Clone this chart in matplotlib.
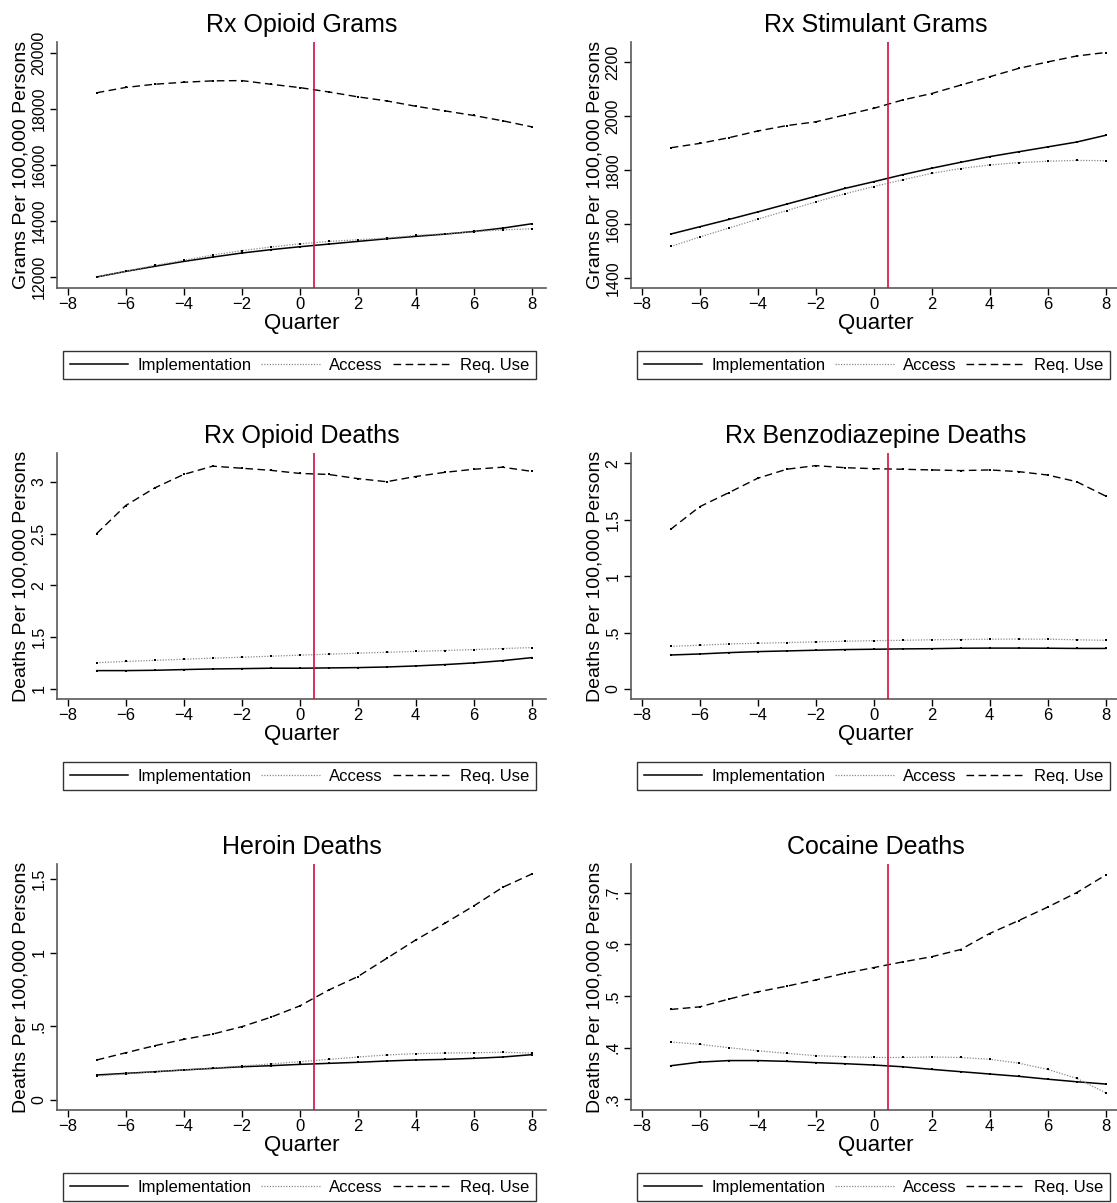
import matplotlib
matplotlib.use("Agg")
import matplotlib.pyplot as plt
from matplotlib.lines import Line2D

plt.rcParams['font.family'] = ['Liberation Sans', 'DejaVu Sans']

quarters = list(range(-7, 9))

titles = ["Rx Opioid Grams", "Rx Stimulant Grams", "Rx Opioid Deaths",
          "Rx Benzodiazepine Deaths", "Heroin Deaths", "Cocaine Deaths"]
ylabels = ["Grams Per 100,000 Persons", "Grams Per 100,000 Persons",
           "Deaths Per 100,000 Persons", "Deaths Per 100,000 Persons",
           "Deaths Per 100,000 Persons", "Deaths Per 100,000 Persons"]
series_names = ["Implementation", "Access", "Req. Use"]

# Rx Opioid Grams
opioid_grams_impl = [12000, 12200, 12380, 12555, 12710, 12855, 12975, 13080,
                     13175, 13270, 13365, 13450, 13530, 13625, 13745, 13900]
opioid_grams_access = [12000, 12205, 12415, 12595, 12785, 12940, 13070, 13185,
                       13270, 13330, 13390, 13485, 13545, 13615, 13685, 13720]
opioid_grams_req = [18580, 18770, 18885, 18955, 19005, 19015, 18885, 18765,
                    18610, 18435, 18290, 18100, 17935, 17770, 17580, 17365]

# Rx Stimulant Grams
stim_grams_impl = [1563, 1590, 1617, 1645, 1674, 1703, 1732, 1757,
                   1783, 1807, 1829, 1850, 1868, 1886, 1904, 1929]
stim_grams_access = [1517, 1552, 1585, 1618, 1650, 1682, 1712, 1739,
                     1764, 1788, 1806, 1819, 1828, 1833, 1836, 1835]
stim_grams_req = [1883, 1899, 1920, 1945, 1965, 1979, 2004, 2029,
                  2060, 2084, 2115, 2146, 2177, 2201, 2223, 2236]

# Rx Opioid Deaths
opioid_deaths_impl = [1.177, 1.177, 1.180, 1.187, 1.193, 1.196, 1.200, 1.200,
                      1.203, 1.206, 1.212, 1.222, 1.235, 1.251, 1.273, 1.302]
opioid_deaths_access = [1.254, 1.265, 1.276, 1.287, 1.297, 1.306, 1.316, 1.326,
                        1.336, 1.345, 1.354, 1.362, 1.371, 1.380, 1.390, 1.399]
opioid_deaths_req = [2.50, 2.77, 2.94, 3.07, 3.15, 3.13, 3.11, 3.08,
                     3.07, 3.03, 3.00, 3.05, 3.09, 3.12, 3.14, 3.10]

# Rx Benzodiazepine Deaths
benzo_deaths_impl = [0.301, 0.310, 0.322, 0.331, 0.337, 0.343, 0.349, 0.352,
                     0.355, 0.357, 0.361, 0.362, 0.362, 0.361, 0.359, 0.359]
benzo_deaths_access = [0.378, 0.387, 0.399, 0.405, 0.411, 0.417, 0.423, 0.428,
                       0.431, 0.436, 0.438, 0.441, 0.442, 0.441, 0.436, 0.431]
benzo_deaths_req = [1.415, 1.615, 1.739, 1.867, 1.947, 1.979, 1.961, 1.952,
                    1.947, 1.941, 1.935, 1.941, 1.926, 1.896, 1.837, 1.710]

# Heroin Deaths
heroin_deaths_impl = [0.170, 0.181, 0.192, 0.204, 0.215, 0.226, 0.233, 0.242,
                      0.249, 0.256, 0.265, 0.272, 0.276, 0.283, 0.292, 0.308]
heroin_deaths_access = [0.163, 0.177, 0.192, 0.204, 0.217, 0.231, 0.245, 0.260,
                        0.276, 0.292, 0.306, 0.315, 0.319, 0.321, 0.324, 0.319]
heroin_deaths_req = [0.272, 0.321, 0.369, 0.412, 0.448, 0.498, 0.562, 0.639,
                     0.747, 0.838, 0.962, 1.087, 1.200, 1.318, 1.445, 1.535]

# Cocaine Deaths
cocaine_deaths_impl = [0.365, 0.372, 0.375, 0.375, 0.3735, 0.371, 0.369, 0.3664,
                       0.363, 0.358, 0.3535, 0.349, 0.3445, 0.339, 0.334, 0.3296]
cocaine_deaths_access = [0.411, 0.4065, 0.400, 0.394, 0.389, 0.3845, 0.3825, 0.381,
                         0.381, 0.382, 0.381, 0.3775, 0.370, 0.358, 0.3407, 0.3128]
cocaine_deaths_req = [0.474, 0.479, 0.494, 0.508, 0.519, 0.531, 0.544, 0.555,
                      0.566, 0.576, 0.590, 0.621, 0.646, 0.672, 0.700, 0.734]

panel_series = [
    (opioid_grams_impl, opioid_grams_access, opioid_grams_req),
    (stim_grams_impl, stim_grams_access, stim_grams_req),
    (opioid_deaths_impl, opioid_deaths_access, opioid_deaths_req),
    (benzo_deaths_impl, benzo_deaths_access, benzo_deaths_req),
    (heroin_deaths_impl, heroin_deaths_access, heroin_deaths_req),
    (cocaine_deaths_impl, cocaine_deaths_access, cocaine_deaths_req),
]

ytick_values = [
    [12000, 14000, 16000, 18000, 20000],
    [1400, 1600, 1800, 2000, 2200],
    [1, 1.5, 2, 2.5, 3],
    [0, 0.5, 1, 1.5, 2],
    [0, 0.5, 1, 1.5],
    [0.3, 0.4, 0.5, 0.6, 0.7],
]
ytick_labels = [
    ["12000", "14000", "16000", "18000", "20000"],
    ["1400", "1600", "1800", "2000", "2200"],
    ["1", "1.5", "2", "2.5", "3"],
    ["0", ".5", "1", "1.5", "2"],
    ["0", ".5", "1", "1.5"],
    [".3", ".4", ".5", ".6", ".7"],
]
ylims = [(11607, 20393), (1363, 2275), (0.903, 3.277),
         (-0.089, 2.091), (-0.068, 1.604), (0.2793, 0.7556)]
xticks = [-8, -6, -4, -2, 0, 2, 4, 6, 8]
xlim = (-8.37, 8.5)
treatment_line = 0.5

W, H = 1117, 1203
fig = plt.figure(figsize=(W / 100, H / 100), dpi=100)

col_left = [57, 631]
row_top = [42, 453, 864]
ax_w, ax_h = 489, 246

styles = [
    dict(color='black', lw=1.1, ls='-'),
    dict(color='#8a8a8a', lw=0.9, ls=(0, (1, 1.2))),
    dict(color='black', lw=1.0, ls=(0, (5.5, 3.2))),
]
axis_gray = '#5a5a5a'

for i in range(6):
    r, c = divmod(i, 2)
    left = col_left[c]
    top = row_top[r]
    ax = fig.add_axes([left / W, 1 - (top + ax_h) / H, ax_w / W, ax_h / H])
    for s, vals in enumerate(panel_series[i]):
        ax.plot(quarters, vals, marker='s', markersize=1.8, markerfacecolor='black',
                markeredgewidth=0, **styles[s])
    ax.axvline(treatment_line, color='#cf1041', lw=1.2, zorder=5)
    ax.set_xlim(*xlim)
    ax.set_ylim(*ylims[i])
    ax.set_xticks(xticks)
    ax.set_yticks(ytick_values[i])
    ax.set_yticklabels(ytick_labels[i], rotation=90, va='center')
    ax.tick_params(axis='x', labelsize=12, length=5, width=1, pad=1.5, color='black')
    ax.tick_params(axis='y', labelsize=11.5, length=5, width=1, pad=2.5, color='black')
    for sp in ['top', 'right']:
        ax.spines[sp].set_visible(False)
    for sp in ['left', 'bottom']:
        ax.spines[sp].set_color(axis_gray)
        ax.spines[sp].set_linewidth(1.2)
    ax.set_title(titles[i], fontsize=18, pad=7)
    ax.set_xlabel("Quarter", fontsize=16, labelpad=1)
    ax.set_ylabel(ylabels[i], fontsize=14)
    ax.yaxis.set_label_coords(-0.056, 0.5)

    handles = [Line2D([], [], **styles[s]) for s in range(3)]
    cx = (left + ax_w / 2 - 2) / W
    leg = fig.legend(handles, series_names, loc='upper center',
                     bbox_to_anchor=(cx, 1 - 351 / H - r * 411 / H),
                     bbox_transform=fig.transFigure, ncol=3, fontsize=12,
                     frameon=True, fancybox=False, borderpad=0.4,
                     handlelength=3.5, handletextpad=0.55, columnspacing=0.6,
                     borderaxespad=0)
    leg.get_frame().set_edgecolor('black')
    leg.get_frame().set_linewidth(1.0)

fig.savefig("out.png", dpi=100)
